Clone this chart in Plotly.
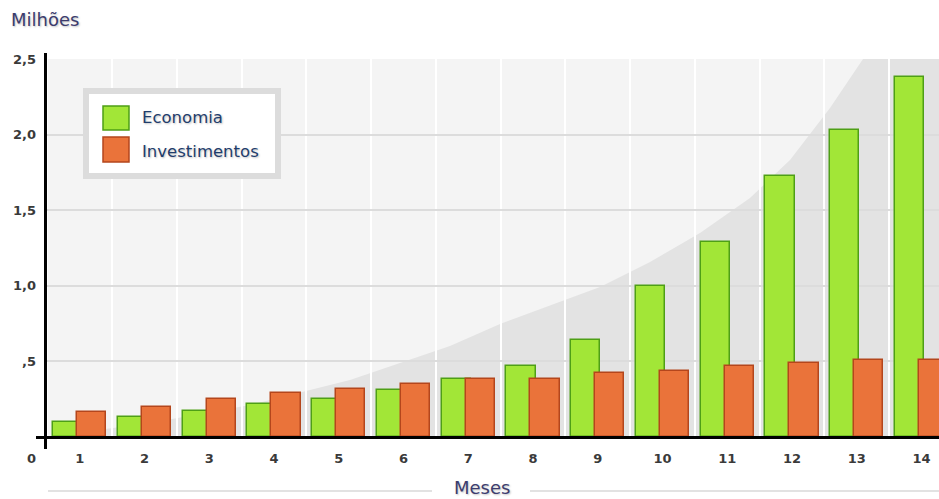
import plotly.graph_objects as go

# ---- data ----
meses = list(range(1, 15))
mes_labels = [str(m) for m in meses]
economia = [0.10, 0.134, 0.174, 0.218, 0.249, 0.31, 0.383, 0.467, 0.642, 0.997, 1.289, 1.727, 2.028, 2.383]
investimentos = [0.165, 0.198, 0.249, 0.29, 0.32, 0.352, 0.383, 0.383, 0.424, 0.435, 0.467, 0.488, 0.506, 0.506]
series_names = ["Economia", "Investimentos"]
y_tickvals = [0.5, 1.0, 1.5, 2.0, 2.5]
y_ticktext = [",5", "1,0", "1,5", "2,0", "2,5"]

W, H = 939, 499
L, R, T, B = 46, 0, 59, 62
PW, PH = W - L - R, H - T - B


def px(x):
    return (x - L) / PW


def py(y):
    return (H - B - y) / PH


GREEN = "#a2e637"
GREEN_LINE = "#4e9f16"
ORANGE = "#ea733a"
ORANGE_LINE = "#b4461c"
TICK_FONT = dict(family="DejaVu Sans", size=13, color="#3a3a3a", weight="bold")
TITLE_COLOR = "#3c3c6e"
SHADOW = "1px 1px 2px rgba(0,0,0,0.25)"

fig = go.Figure()
fig.add_trace(go.Bar(
    x=meses, y=economia, name=series_names[0], width=0.45, offset=-0.41,
    marker=dict(color=GREEN, line=dict(color=GREEN_LINE, width=1.5)),
    showlegend=False,
))
fig.add_trace(go.Bar(
    x=meses, y=investimentos, name=series_names[1], width=0.45, offset=-0.04,
    marker=dict(color=ORANGE, line=dict(color=ORANGE_LINE, width=1.5)),
    showlegend=False,
))

# decorative background curve (shaded region)
curve_px = [(46, 437), (150, 423), (250, 405), (350, 380), (450, 346), (500, 324),
            (600, 287), (650, 262), (700, 233), (750, 198), (790, 160), (830, 108), (863, 59)]
path = "M " + " L ".join(f"{px(a):.5f},{py(b):.5f}" for a, b in curve_px)
path += f" L {px(939):.5f},{py(59):.5f} L {px(939):.5f},{py(437):.5f} Z"

shapes = [
    dict(type="path", path=path, xref="paper", yref="paper", fillcolor="#e3e3e3",
         line=dict(width=0), layer="below"),
    # axis lines
    dict(type="line", xref="paper", yref="paper", x0=px(45.5), x1=px(45.5), y0=py(449), y1=py(53),
         line=dict(color="black", width=3)),
    dict(type="line", xref="paper", yref="paper", x0=px(36), x1=px(939), y0=py(437.5), y1=py(437.5),
         line=dict(color="black", width=3)),
    # lines around "Meses"
    dict(type="line", xref="paper", yref="paper", x0=px(48), x1=px(432), y0=py(491), y1=py(491),
         line=dict(color="#e2e2e2", width=2)),
    dict(type="line", xref="paper", yref="paper", x0=px(530), x1=px(939), y0=py(491), y1=py(491),
         line=dict(color="#e2e2e2", width=2)),
    # legend box
    dict(type="rect", xref="paper", yref="paper", x0=px(86), x1=px(278), y0=py(176), y1=py(91),
         fillcolor="white", line=dict(color="#dcdcdc", width=6)),
    dict(type="rect", xref="paper", yref="paper", x0=px(103), x1=px(129), y0=py(130), y1=py(106),
         fillcolor=GREEN, line=dict(color=GREEN_LINE, width=1.5)),
    dict(type="rect", xref="paper", yref="paper", x0=px(103), x1=px(129), y0=py(162), y1=py(137),
         fillcolor=ORANGE, line=dict(color=ORANGE_LINE, width=1.5)),
]

annotations = [
    dict(text="Milhões", xref="paper", yref="paper", x=px(9), y=py(20), xanchor="left", yanchor="middle",
         showarrow=False, font=dict(family="DejaVu Sans", size=18, color=TITLE_COLOR, shadow=SHADOW)),
    dict(text="Meses", xref="paper", yref="paper", x=px(482), y=py(487), xanchor="center", yanchor="middle",
         showarrow=False, font=dict(family="DejaVu Sans", size=18, color=TITLE_COLOR, shadow=SHADOW)),
    dict(text="0", xref="paper", yref="paper", x=px(31), y=py(458), xanchor="center", yanchor="middle",
         showarrow=False, font=TICK_FONT),
    dict(text=series_names[0], xref="paper", yref="paper", x=px(140), y=py(118), xanchor="left",
         yanchor="middle", showarrow=False,
         font=dict(family="DejaVu Sans", size=16.5, color="#1f3d6c", shadow=SHADOW)),
    dict(text=series_names[1], xref="paper", yref="paper", x=px(140), y=py(151), xanchor="left",
         yanchor="middle", showarrow=False,
         font=dict(family="DejaVu Sans", size=16.5, color="#1f3d6c", shadow=SHADOW)),
]

fig.update_layout(
    width=W, height=H,
    margin=dict(l=L, r=R, t=T, b=B, pad=0),
    paper_bgcolor="white",
    plot_bgcolor="#f4f4f4",
    barmode="overlay",
    bargap=0,
    shapes=shapes,
    annotations=annotations,
    xaxis=dict(
        range=[0.48, 14.27], tickmode="array", tickvals=meses, ticktext=mes_labels,
        showgrid=False, zeroline=False, showline=False, ticks="",
        tickfont=TICK_FONT, ticklabelstandoff=12,
        minor=dict(tickmode="linear", tick0=0.5, dtick=1, showgrid=True, gridcolor="white",
                   gridwidth=1.5, ticks=""),
    ),
    yaxis=dict(
        range=[0, 2.5], tickmode="array", tickvals=y_tickvals, ticktext=y_ticktext,
        showgrid=True, gridcolor="#dcdcdc", gridwidth=1.5, zeroline=False, showline=False,
        ticks="", tickfont=TICK_FONT, ticklabelstandoff=9,
    ),
)

fig.write_html("out.html")
